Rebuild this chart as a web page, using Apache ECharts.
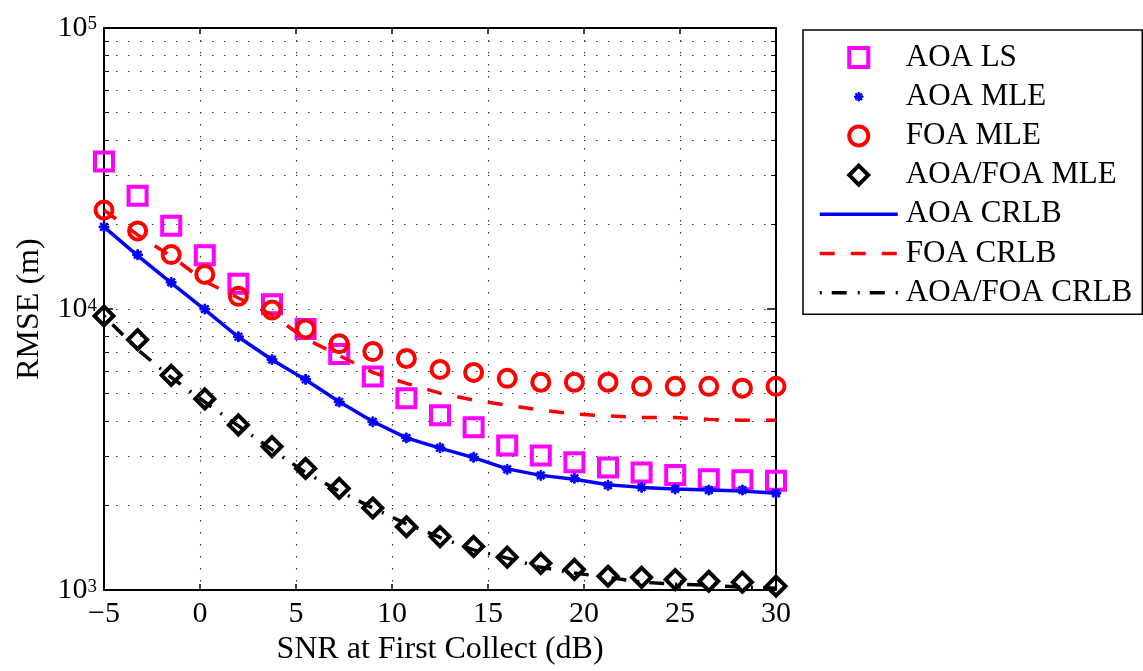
<!DOCTYPE html>
<html>
<head>
<meta charset="utf-8">
<script src="https://cdn.jsdelivr.net/npm/echarts@6/dist/echarts.min.js"></script>
<style>
html,body{margin:0;padding:0;background:#fff;}
#chart{width:1143px;height:671px;}
</style>
</head>
<body>
<div id="chart"></div>
<script>
// ---- data ----
const snr = [-5, -3.25, -1.5, 0.25, 2, 3.75, 5.5, 7.25, 9, 10.75, 12.5, 14.25, 16, 17.75, 19.5, 21.25, 23, 24.75, 26.5, 28.25, 30];
const aoaLs = [33500, 25300, 19800, 15550, 12300, 10400, 8500, 6920, 5760, 4820, 4190, 3800, 3270, 3010, 2850, 2730, 2620, 2570, 2480, 2460, 2450];
const aoaMle = [19600, 15600, 12450, 10000, 7970, 6610, 5620, 4670, 3970, 3480, 3210, 2970, 2690, 2560, 2500, 2360, 2320, 2290, 2270, 2270, 2210];
const foaMle = [22500, 18970, 15620, 13280, 11100, 9920, 8500, 7530, 7060, 6670, 6100, 5950, 5670, 5490, 5490, 5490, 5310, 5310, 5310, 5230, 5310];
const aoaFoaMle = [9450, 7780, 5810, 4790, 3870, 3240, 2710, 2300, 1960, 1680, 1550, 1430, 1310, 1245, 1185, 1120, 1110, 1090, 1075, 1067, 1033];
const aoaCrlb = [19600, 15500, 12400, 9950, 7950, 6600, 5600, 4680, 3980, 3480, 3200, 2960, 2700, 2560, 2480, 2370, 2320, 2290, 2270, 2250, 2210];
const foaCrlb = [22500, 18360, 15430, 12550, 10950, 9530, 7840, 6830, 5950, 5440, 5020, 4740, 4550, 4370, 4230, 4170, 4110, 4110, 4050, 4020, 4020];
const aoaFoaCrlb = [9450, 7170, 5710, 4670, 3840, 3160, 2620, 2250, 1960, 1720, 1540, 1390, 1300, 1205, 1150, 1110, 1067, 1050, 1040, 1025, 1016];
const seriesNames = ['AOA LS', 'AOA MLE', 'FOA MLE', 'AOA/FOA MLE', 'AOA CRLB', 'FOA CRLB', 'AOA/FOA CRLB'];
const xTicks = [-5, 0, 5, 10, 15, 20, 25, 30];
const yMinorGrid = [2000, 3000, 4000, 5000, 6000, 7000, 8000, 9000, 20000, 30000, 40000, 50000, 60000, 70000, 80000, 90000];
const xLabel = 'SNR at First Collect (dB)';
const yLabel = 'RMSE (m)';

// ---- chart ----
const FONT = '"Liberation Serif", "Times New Roman", serif';
const pairs = (ys) => snr.map((x, i) => [x, ys[i]]);
const starPath = 'path://M0 0 M20 20 M9.2 5.5 L10.8 5.5 L10.8 14.5 L9.2 14.5 Z M5.5 9.2 L14.5 9.2 L14.5 10.8 L5.5 10.8 Z M7.37 6.23 L13.77 12.63 L12.63 13.77 L6.23 7.37 Z M13.77 7.37 L7.37 13.77 L6.23 12.63 L12.63 6.23 Z';
const squarePath = 'path://M0 0 L20 0 L20 20 L0 20 Z';
const circlePath = 'path://M10 0 A10 10 0 1 1 10 20 A10 10 0 1 1 10 0 Z';
const diamondPath = 'path://M10 0 L20 10 L10 20 L0 10 Z';
const gridDot = { color: '#3a3a3a', width: 1.2, type: [1.5, 10.5] };
const axisBlack = { color: '#000', width: 2 };
const hollow = (c) => ({ color: 'rgba(255,255,255,0)', borderColor: c, borderWidth: 4, opacity: 1 });

const chart = echarts.init(document.getElementById('chart'), null, { renderer: 'canvas' });
chart.setOption({
  animation: false,
  backgroundColor: '#fff',
  grid: { left: 104, right: 367, top: 28, bottom: 75, containLabel: false },
  xAxis: [{
    type: 'value', min: xTicks[0], max: xTicks[xTicks.length - 1], interval: 5, position: 'bottom',
    axisLine: { show: true, onZero: false, lineStyle: axisBlack },
    axisTick: { show: true, inside: true, length: 6, lineStyle: { color: '#000', width: 1.5 } },
    axisLabel: { color: '#000', fontFamily: FONT, fontSize: 30, margin: 9,
      formatter: v => v < 0 ? '\u2212' + Math.abs(v) : String(v) },
    splitLine: { show: true, lineStyle: gridDot },
    name: xLabel, nameLocation: 'middle', nameGap: 42,
    nameTextStyle: { color: '#000', fontFamily: FONT, fontSize: 32 }
  }, {
    type: 'value', min: xTicks[0], max: xTicks[xTicks.length - 1], interval: 5, position: 'top',
    axisLine: { show: true, onZero: false, lineStyle: axisBlack },
    axisTick: { show: true, inside: true, length: 6, lineStyle: { color: '#000', width: 1.5 } },
    axisLabel: { show: false }, splitLine: { show: false }
  }],
  yAxis: [{
    type: 'log', logBase: 10, min: 1000, max: 100000, position: 'left',
    axisLine: { show: true, onZero: false, lineStyle: axisBlack },
    axisTick: { show: true, inside: true, length: 9, lineStyle: { color: '#000', width: 1.5 } },
    minorTick: { show: true, splitNumber: 9, length: 5, lineStyle: { color: '#000', width: 1 } },
    axisLabel: { margin: 7,
      formatter: v => '{b|10}{s|' + Math.round(Math.log10(v)) + '}',
      rich: {
        b: { color: '#000', fontFamily: FONT, fontSize: 30, lineHeight: 30, padding: [12, 0, 12, 0] },
        s: { color: '#000', fontFamily: FONT, fontSize: 19, lineHeight: 19, verticalAlign: 'top', padding: [2, 0, 0, 0] }
      } },
    splitLine: { show: true, lineStyle: gridDot },
    name: yLabel, nameLocation: 'middle', nameGap: 58, nameRotate: 90,
    nameTextStyle: { color: '#000', fontFamily: FONT, fontSize: 32 }
  }, {
    type: 'log', logBase: 10, min: 1000, max: 100000, position: 'right',
    axisLine: { show: true, onZero: false, lineStyle: axisBlack },
    axisTick: { show: true, inside: true, length: 9, lineStyle: { color: '#000', width: 1.5 } },
    minorTick: { show: true, splitNumber: 9, length: 5, lineStyle: { color: '#000', width: 1 } },
    axisLabel: { show: false }, splitLine: { show: false }
  }],
  legend: {
    orient: 'vertical', left: 803, top: 30,
    padding: [12, 10, 6, 15], itemWidth: 78, itemHeight: 19, itemGap: 8.2,
    borderColor: '#000', borderWidth: 1.5, backgroundColor: '#fff',
    selectedMode: false, symbolKeepAspect: true,
    textStyle: { color: '#000', fontFamily: FONT, fontSize: 31, lineHeight: 30, padding: [0, 0, 0, 3] },
    data: [
      { name: seriesNames[0], itemStyle: { borderWidth: 4, opacity: 1 } },
      { name: seriesNames[1], itemStyle: { borderWidth: 1, opacity: 1 } },
      { name: seriesNames[2], itemStyle: { borderWidth: 4, opacity: 1 } },
      { name: seriesNames[3], itemStyle: { borderWidth: 4, opacity: 1 } },
      { name: seriesNames[4], itemStyle: { opacity: 0 }, lineStyle: { width: 3.5, opacity: 1 } },
      { name: seriesNames[5], itemStyle: { opacity: 0 }, lineStyle: { width: 3.5, opacity: 1 } },
      { name: seriesNames[6], itemStyle: { opacity: 0 }, lineStyle: { width: 3.5, opacity: 1 } }
    ]
  },
  series: [
    {
      name: 'grid', type: 'line', data: [], silent: true, z: 1,
      markLine: { silent: true, symbol: ['none', 'none'], label: { show: false }, animation: false,
        lineStyle: gridDot, emphasis: { disabled: true },
        data: yMinorGrid.map(v => ({ yAxis: v })) }
    },
    { name: seriesNames[0], type: 'scatter', data: pairs(aoaLs), symbol: squarePath, symbolSize: 18, z: 2, silent: true,
      itemStyle: hollow('#ff00ff') },
    { name: seriesNames[1], type: 'scatter', data: pairs(aoaMle), symbol: starPath, symbolSize: 22, z: 2, silent: true,
      itemStyle: { color: '#0000ff', borderColor: '#0000ff', borderWidth: 1, opacity: 1 } },
    { name: seriesNames[2], type: 'scatter', data: pairs(foaMle), symbol: circlePath, symbolSize: 17, z: 2, silent: true,
      itemStyle: hollow('#ff0000') },
    { name: seriesNames[3], type: 'scatter', data: pairs(aoaFoaMle), symbol: diamondPath, symbolSize: 19, z: 2, silent: true,
      itemStyle: hollow('#000000') },
    { name: seriesNames[4], type: 'line', data: pairs(aoaCrlb), symbol: 'none', showSymbol: false, z: 3, silent: true,
      itemStyle: { color: '#0000ff' }, lineStyle: { color: '#0000ff', width: 3.5, type: 'solid' } },
    { name: seriesNames[5], type: 'line', data: pairs(foaCrlb), symbol: 'none', showSymbol: false, z: 3, silent: true,
      itemStyle: { color: '#ff0000' }, lineStyle: { color: '#ff0000', width: 3.5, type: [15, 16] } },
    { name: seriesNames[6], type: 'line', data: pairs(aoaFoaCrlb), symbol: 'none', showSymbol: false, z: 3, silent: true,
      itemStyle: { color: '#000000' }, lineStyle: { color: '#000000', width: 3.5, type: [2, 10, 15, 11] } }
  ]
});
</script>
</body>
</html>
